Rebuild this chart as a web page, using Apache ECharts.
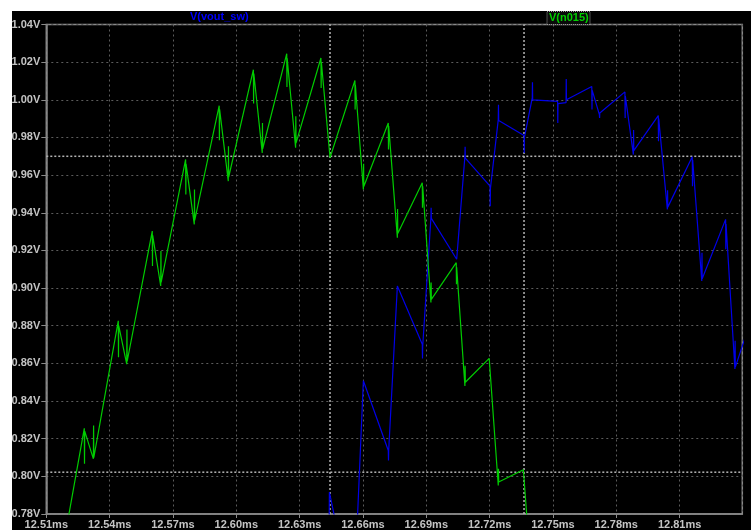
<!DOCTYPE html>
<html>
<head>
<meta charset="utf-8">
<script src="https://cdn.jsdelivr.net/npm/echarts@6/dist/echarts.min.js"></script>
<style>
  html, body { margin: 0; padding: 0; background: #ffffff; }
  #chart { width: 751px; height: 530px; }
</style>
</head>
<body>
<div id="chart"></div>
<script>
// Time axis (ms) and voltage axis (V) settings
const timeMin = 12.51;
const timeMax = 12.8397;
const timeStep = 0.03;
const voltMin = 0.78;
const voltMax = 1.04;
const voltStep = 0.02;

// Trace names
const traceNames = ['V(vout_sw)', 'V(n015)'];

// V(vout_sw): [time ms, volts]
const voutSw = [
  [12.6439, 0.760], [12.6441, 0.7916], [12.6472, 0.775], [12.6569, 0.765],
  [12.6602, 0.8508], [12.6720, 0.8137], [12.6721, 0.8084], [12.6722, 0.814],
  [12.6763, 0.9011], [12.6881, 0.8702], [12.6882, 0.8626], [12.6883, 0.869],
  [12.6922, 0.9374], [12.6923, 0.9427], [12.6924, 0.937], [12.7044, 0.9153],
  [12.7083, 0.970], [12.7084, 0.975], [12.7085, 0.969], [12.7202, 0.9541],
  [12.7203, 0.9435], [12.7204, 0.953], [12.7241, 0.9895], [12.7242, 0.9974],
  [12.7243, 0.989], [12.7363, 0.981], [12.7364, 0.9718], [12.7365, 0.980],
  [12.7402, 1.001], [12.7403, 1.0093], [12.7404, 1.000], [12.7522, 0.9992],
  [12.7523, 0.9877], [12.7524, 0.998], [12.7562, 0.9985], [12.7563, 1.011],
  [12.7564, 1.000], [12.7684, 1.0071], [12.7685, 0.9948], [12.7686, 1.005],
  [12.7720, 0.9921], [12.7721, 0.9904], [12.7722, 0.993], [12.7841, 1.0042],
  [12.7842, 0.9904], [12.7843, 1.002], [12.7881, 0.9709], [12.7882, 0.984],
  [12.7883, 0.973], [12.7999, 0.9916], [12.8000, 0.978], [12.8001, 0.990],
  [12.8042, 0.9418], [12.8043, 0.952], [12.8044, 0.943], [12.8160, 0.9697],
  [12.8161, 0.9541], [12.8162, 0.968], [12.8205, 0.9038], [12.8206, 0.9188],
  [12.8207, 0.905], [12.8318, 0.9365], [12.8319, 0.9206], [12.8320, 0.934],
  [12.8362, 0.857], [12.8363, 0.872], [12.8364, 0.858], [12.8414, 0.875]
];

// V(n015): [time ms, volts]
const n015 = [
  [12.5193, 0.771], [12.5280, 0.8255], [12.5281, 0.8067], [12.5282, 0.824],
  [12.5323, 0.8093], [12.5324, 0.827], [12.5325, 0.810], [12.5441, 0.8826],
  [12.5442, 0.8632], [12.5443, 0.880], [12.5481, 0.8596], [12.5482, 0.878],
  [12.5483, 0.861], [12.5602, 0.9303], [12.5603, 0.9117], [12.5604, 0.928],
  [12.5642, 0.9011], [12.5643, 0.9197], [12.5644, 0.903], [12.5760, 0.9683],
  [12.5761, 0.9497], [12.5762, 0.966], [12.5801, 0.9338], [12.5802, 0.9524],
  [12.5803, 0.936], [12.5919, 0.9969], [12.5920, 0.9785], [12.5921, 0.995],
  [12.5962, 0.9568], [12.5963, 0.9753], [12.5964, 0.959], [12.6081, 1.016],
  [12.6082, 0.998], [12.6083, 1.014], [12.6123, 0.9718], [12.6124, 0.9877],
  [12.6125, 0.974], [12.6239, 1.0245], [12.6240, 1.0068], [12.6241, 1.022],
  [12.6281, 0.9745], [12.6282, 0.9912], [12.6283, 0.977], [12.6401, 1.0222],
  [12.6402, 1.0063], [12.6403, 1.020], [12.6444, 0.9692], [12.6562, 1.0103],
  [12.6563, 0.9948], [12.6564, 1.008], [12.6602, 0.9524], [12.6603, 0.966],
  [12.6604, 0.954], [12.6720, 0.9877], [12.6721, 0.9736], [12.6722, 0.986],
  [12.6763, 0.9268], [12.6764, 0.942], [12.6765, 0.929], [12.6881, 0.956],
  [12.6882, 0.9427], [12.6883, 0.954], [12.6922, 0.8923], [12.6923, 0.903],
  [12.6924, 0.894], [12.7042, 0.9135], [12.7043, 0.902], [12.7044, 0.911],
  [12.7083, 0.848], [12.7084, 0.8587], [12.7085, 0.850], [12.7198, 0.8627],
  [12.7241, 0.7951], [12.7242, 0.804], [12.7243, 0.797], [12.7360, 0.8035],
  [12.7382, 0.770]
];

// Cursor positions
const cursorTimes = [12.6444, 12.7363];
const cursorVolts = [0.970, 0.8022];

const labelFont = {
  color: '#c4c4c4',
  fontFamily: 'Liberation Sans, Arial, sans-serif',
  fontWeight: 'bold',
  fontSize: 11
};
const gridLine = { show: true, lineStyle: { color: '#5c5c5c', type: [2, 3], width: 1 } };
const frameLine = { show: true, lineStyle: { color: '#8a8a8a', width: 1.5 } };
const cursorStyle = { color: '#b4b4b4', type: [2, 2], width: 1.5 };

// Cursor lines as two-point line series spanning the plot
const cursorSeries = cursorTimes.map(t => [[t, voltMin], [t, voltMax]])
  .concat(cursorVolts.map(v => [[timeMin, v], [timeMax, v]]))
  .map(pts => ({
    type: 'line', data: pts, showSymbol: false, silent: true, z: 2,
    lineStyle: cursorStyle
  }));

const chart = echarts.init(document.getElementById('chart'), null, { renderer: 'canvas' });
chart.setOption({
  animation: false,
  backgroundColor: '#ffffff',
  graphic: {
    elements: [
      { type: 'rect', z: -100, shape: { x: 12, y: 11, width: 739, height: 519 },
        style: { fill: '#000000' }, silent: true },
      { type: 'text', z: 100, left: 190, top: 11,
        style: { text: traceNames[0], fill: '#0000ff', font: 'bold 11px "Liberation Sans", Arial, sans-serif' } },
      { type: 'rect', z: 99, shape: { x: 547, y: 11.5, width: 43, height: 13 },
        style: { fill: '#0a0a0a', stroke: '#9a9a9a', lineWidth: 1, lineDash: [1, 1] } },
      { type: 'text', z: 100, left: 549, top: 12,
        style: { text: traceNames[1], fill: '#00d000', font: 'bold 11px "Liberation Sans", Arial, sans-serif' } }
    ]
  },
  grid: {
    left: 46.3, right: 8.7, top: 24.5, bottom: 15,
    show: true, borderColor: '#8a8a8a', borderWidth: 1.5, backgroundColor: 'transparent'
  },
  xAxis: {
    type: 'value', min: timeMin, max: timeMax, interval: timeStep,
    axisLine: frameLine,
    axisTick: { show: true, length: 4, lineStyle: { color: '#8a8a8a' } },
    splitLine: gridLine,
    axisLabel: Object.assign({ margin: 5, showMaxLabel: false,
      formatter: v => v.toFixed(2) + 'ms' }, labelFont)
  },
  yAxis: {
    type: 'value', min: voltMin, max: voltMax, interval: voltStep,
    axisLine: frameLine,
    axisTick: { show: true, length: 5, lineStyle: { color: '#8a8a8a' } },
    splitLine: gridLine,
    axisLabel: Object.assign({ margin: 6,
      formatter: v => v.toFixed(2) + 'V' }, labelFont)
  },
  series: cursorSeries.concat([
    {
      name: traceNames[0], type: 'line', data: voutSw, showSymbol: false, clip: true,
      lineStyle: { color: '#0000e8', width: 1.2 }, z: 3
    },
    {
      name: traceNames[1], type: 'line', data: n015, showSymbol: false, clip: true,
      lineStyle: { color: '#00cc00', width: 1.2 }, z: 4
    }
  ])
});
</script>
</body>
</html>
